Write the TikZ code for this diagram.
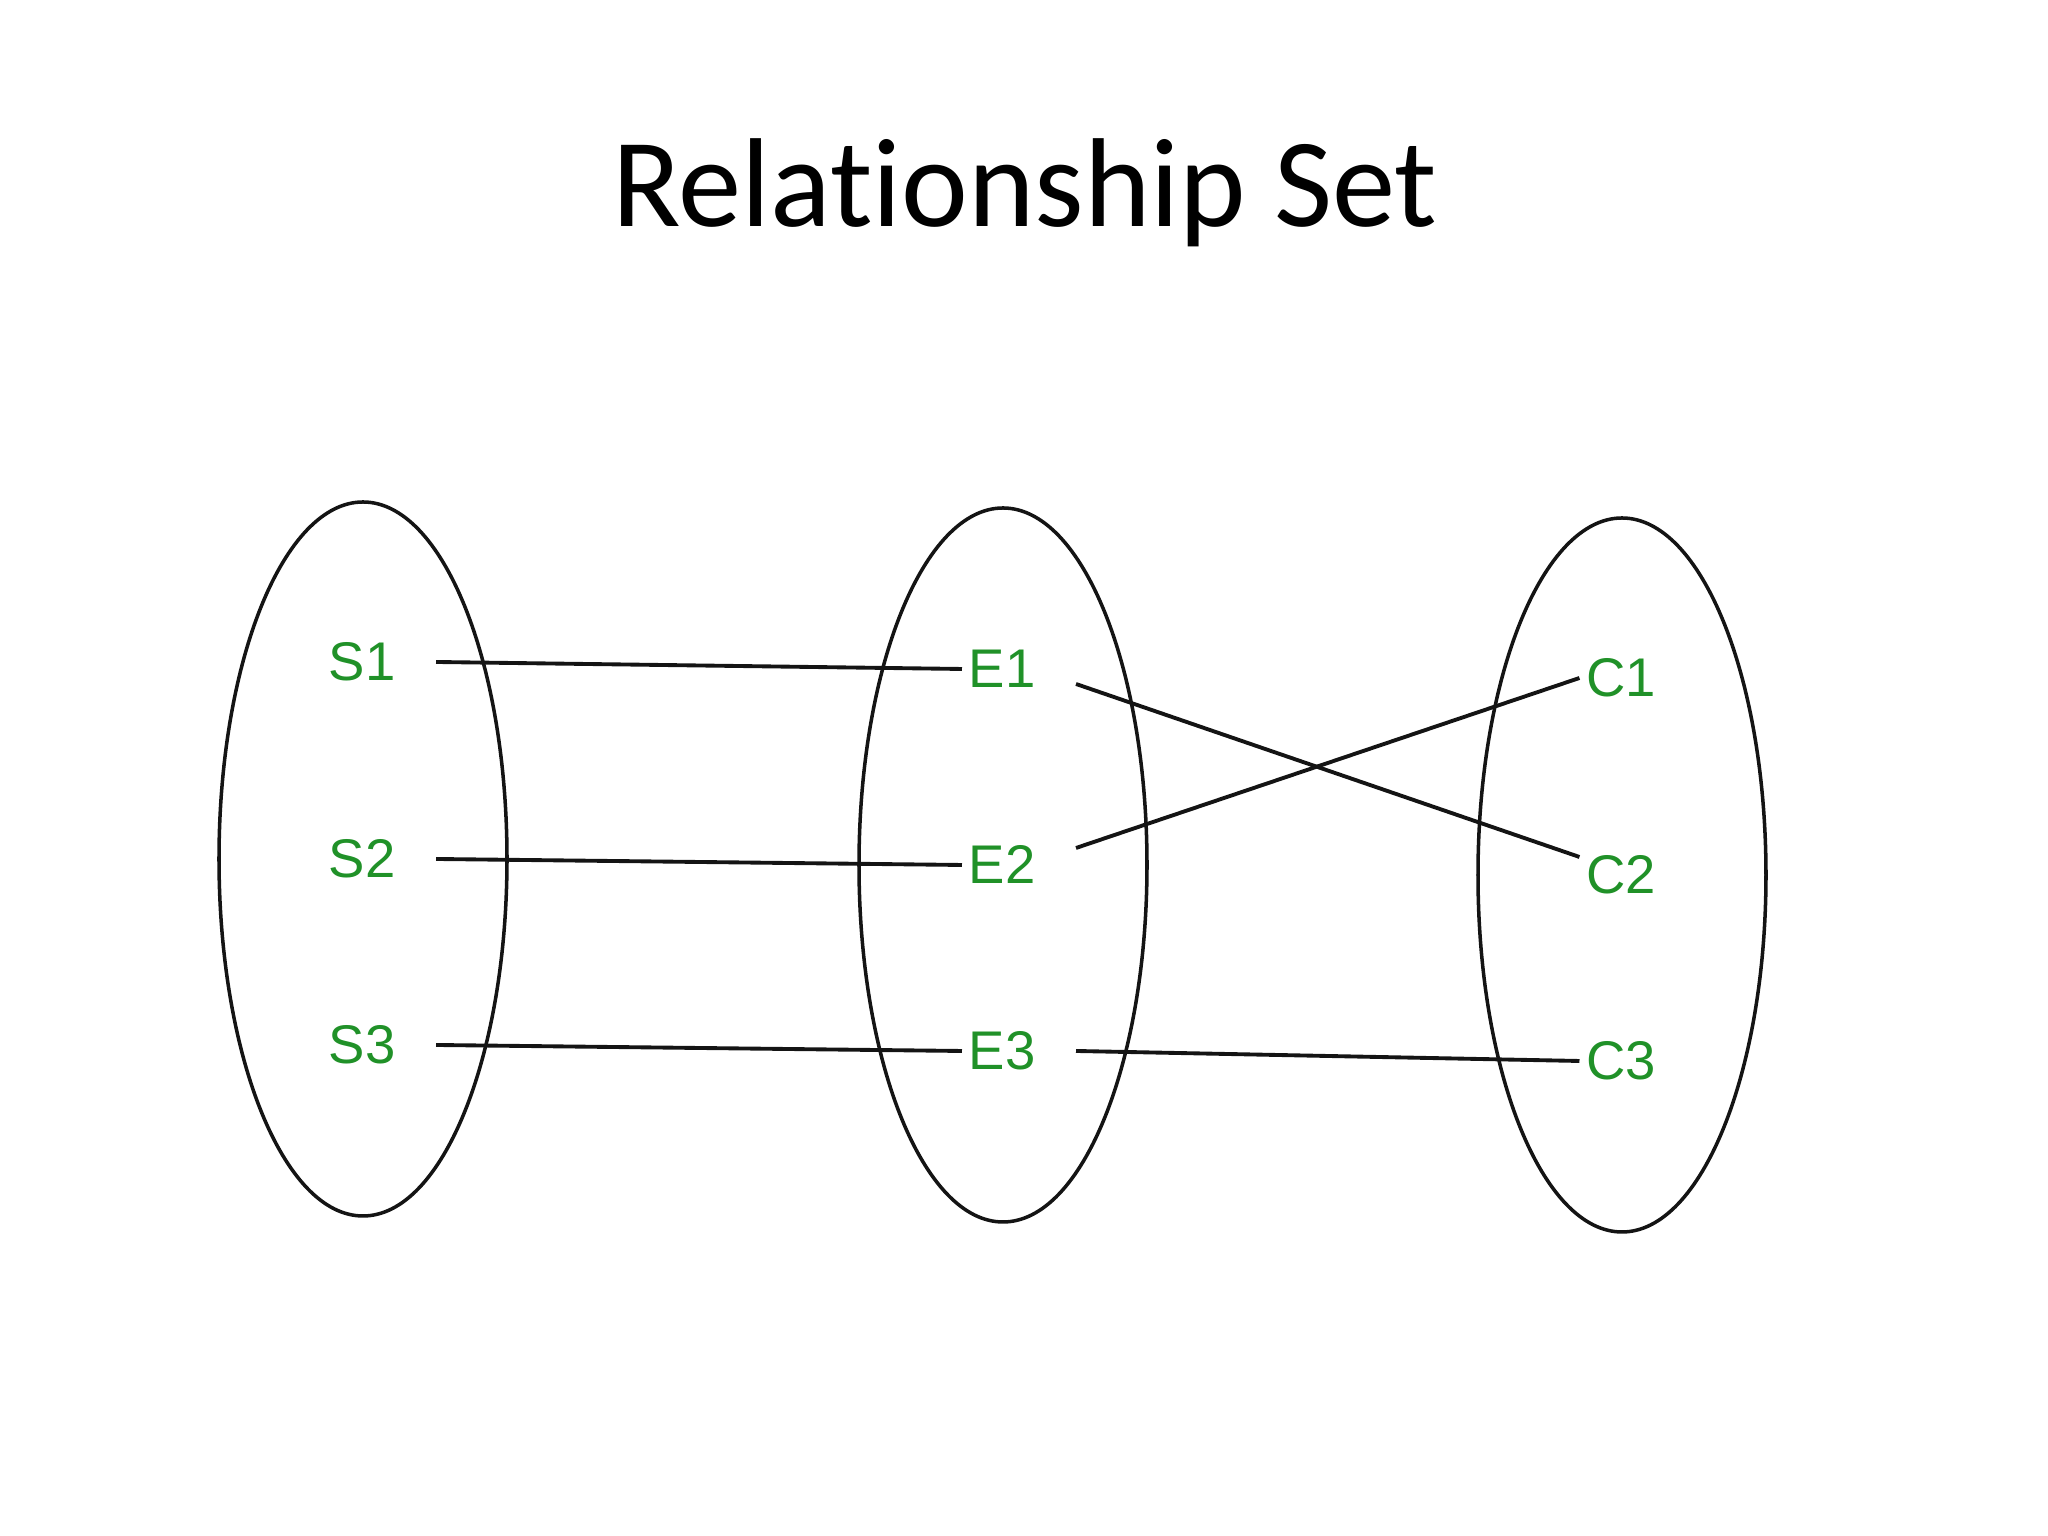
\documentclass[tikz,border=0pt]{standalone}
\usepackage{fontspec}
\usepackage{tikz}
\usetikzlibrary{shapes.geometric, positioning}
\newfontfamily\titlefont[Ligatures=NoCommon]{Carlito}
\newfontfamily\labelfont{Liberation Sans}
\definecolor{mygreen}{RGB}{32,145,40}
\definecolor{mydark}{RGB}{20,20,20}
\tikzset{
  setbox/.style={ellipse, draw=mydark, line width=1pt,
    minimum width=2.88cm, minimum height=7.14cm, inner sep=0pt},
  member/.style={text=mygreen, font=\labelfont\fontsize{15.5}{18}\selectfont,
    inner sep=0pt, text height=0.38cm, text depth=0pt},
  link/.style={line width=1.1pt, color=mydark}
}

\begin{document}
\begin{tikzpicture}
  \useasboundingbox (0,0) rectangle (20.48,15.36);

  \node[font=\titlefont\fontsize{36}{43}\selectfont] (title) at (10.25,13.43) {Relationship Set};

  % the three sets
  \node[setbox] (setS) at (3.63,6.77) {};
  \node[setbox] (setE) at (10.03,6.71) {};
  \node[setbox] (setC) at (16.22,6.61) {};

  % members
  \node[member] (s2) at (3.62,6.77) {S2};
  \node[member, above=1.97cm of s2.center, anchor=center] (s1) {S1};
  \node[member, below=1.86cm of s2.center, anchor=center] (s3) {S3};
  \node[member] (e2) at (10.02,6.71) {E2};
  \node[member, above=1.96cm of e2.center, anchor=center] (e1) {E1};
  \node[member, below=1.86cm of e2.center, anchor=center] (e3) {E3};
  \node[member] (c2) at (16.21,6.61) {C2};
  \node[member, above=1.97cm of c2.center, anchor=center] (c1) {C1};
  \node[member, below=1.86cm of c2.center, anchor=center] (c3) {C3};

  % relationships
  \draw[link] ([xshift=4mm]s1.east) -- ([xshift=-0.6mm]e1.west);
  \draw[link] ([xshift=4mm]s2.east) -- ([xshift=-0.6mm]e2.west);
  \draw[link] ([xshift=4mm]s3.east) -- ([xshift=-0.6mm]e3.west);
  \draw[link] ([shift={(4mm,-1.5mm)}]e1.east) -- ([shift={(-0.6mm,1.8mm)}]c2.west);
  \draw[link] ([shift={(4mm,1.7mm)}]e2.east) -- ([xshift=-0.6mm]c1.west);
  \draw[link] ([xshift=4mm]e3.east) -- ([xshift=-0.6mm]c3.west);
\end{tikzpicture}
\end{document}
